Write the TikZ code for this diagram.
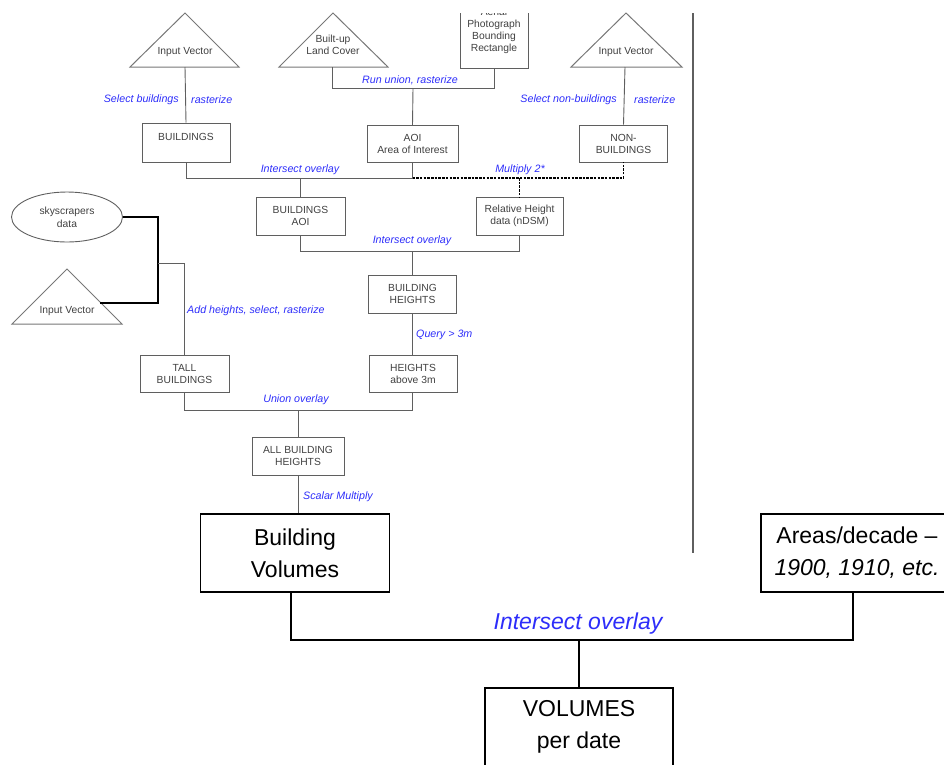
\documentclass[tikz,border=0pt]{standalone}
\usepackage{fontspec}
\setmainfont{Liberation Sans}
\usetikzlibrary{shapes.geometric}
\definecolor{lbl}{RGB}{45,45,250}
\definecolor{ln}{RGB}{95,95,95}
\tikzset{
  sbox/.style={draw=ln, line width=0.9, align=center, inner sep=0,
    font=\fontsize{10.3}{12}\selectfont, text=black!75},
  stxt/.style={align=center, inner sep=0, font=\fontsize{10.3}{12}\selectfont, text=black!75},
  slbl/.style={inner sep=0, font=\fontsize{10.7}{12}\selectfont\itshape, text=lbl},
  wire/.style={draw=ln, line width=0.9},
  kwire/.style={draw=black, line width=1.2},
  dwire/.style={draw=black, line width=1.4, dash pattern=on 2.5pt off 1.2pt},
  tri/.style={draw=ln!85, line width=1},
  sep/.style={draw=ln, line width=1.5},
  bbox/.style={draw=black, line width=1.6, align=center, inner sep=0,
    font=\fontsize{23}{32}\selectfont},
  bwire/.style={draw=black, line width=1.4},
  blbl/.style={inner sep=0, font=\fontsize{23}{26}\selectfont\itshape, text=lbl},
}
\begin{document}
\begin{tikzpicture}[x=1pt,y=-1pt]
\useasboundingbox (0,0) rectangle (944,764);

% ---------- input layers ----------
\draw[tri] (130,67) -- (185,13) -- (239,67) -- cycle;
\node[stxt] (in1) at (185,52) {Input Vector};
\coordinate (t1b) at (185,67);

\draw[tri] (279,67) -- (333,13) -- (388,67) -- cycle;
\node[stxt] (in2) at (333,45) {Built-up\\Land Cover};
\coordinate (t2b) at (332,67);

\begin{scope}
  \clip (0,13) rectangle (944,100);
  \node[sbox, minimum width=68, minimum height=74] (aer) at (494,31)
    {Aerial\\Photograph\\Bounding\\Rectangle};
\end{scope}

\draw[tri] (571,67) -- (626,13) -- (682,67) -- cycle;
\node[stxt] (in3) at (626,52) {Input Vector};
\coordinate (t3b) at (625,67);

% ---------- first tier ----------
\node[sbox, minimum width=88, minimum height=39] (bld) at (186,142.5) {BUILDINGS\\\mbox{}};
\node[sbox, minimum width=91, minimum height=37] (aoi) at (412.5,144) {AOI\\Area of Interest};
\node[sbox, minimum width=88, minimum height=37] (nbl) at (623.5,143.5) {NON-\\BUILDINGS};

\draw[wire] (t1b) -- (bld.north);
\node[slbl, anchor=east] (l1a) at (179,100) {Select buildings};
\node[slbl, anchor=west] (l1b) at (191,100) {rasterize};

\coordinate (j2) at (413,88);
\draw[wire] (t2b) |- (aer.south |- j2) -- (aer.south);
\draw[wire] (j2) -- (aoi.north);
\node[slbl] (l2) at (410,80) {Run union, rasterize};

\draw[wire] (t3b) -- (nbl.north);
\node[slbl, anchor=east] (l3a) at (617,100) {Select non-buildings};
\node[slbl, anchor=west] (l3b) at (634,100) {rasterize};

% ---------- second tier ----------
\node[sbox, minimum width=89, minimum height=38] (bao) at (300.5,216) {BUILDINGS\\AOI};
\node[sbox, minimum width=87, minimum height=38] (rel) at (519.5,216) {Relative Height\\data (nDSM)};

\coordinate (j3) at (0,178);
\draw[wire] (bld.south) |- (aoi.south |- j3) -- (aoi.south);
\draw[dwire] (aoi.south |- j3) -| (nbl.south);
\draw[wire] (bao.north) -- (bao.north |- j3);
\draw[dwire] (rel.north |- j3) -- (rel.north);
\node[slbl] (l4) at (300,170) {Intersect overlay};
\node[slbl] (l5) at (520,170) {Multiply 2*};

% ---------- building heights ----------
\node[sbox, minimum width=88, minimum height=38] (bht) at (412.5,294) {BUILDING\\HEIGHTS};
\coordinate (j4) at (0,251);
\draw[wire] (bao.south) |- (rel.south |- j4) -- (rel.south);
\draw[wire] (bht.north) -- (bht.north |- j4);
\node[slbl] (l6) at (412,241) {Intersect overlay};

% ---------- tall buildings branch ----------
\node[draw=ln, line width=0.9, ellipse, minimum width=111, minimum height=50, inner sep=0,
  align=center, font=\fontsize{10.3}{13}\selectfont, text=black!75] (ell) at (67,217) {skyscrapers\\data};
\draw[tri] (12,324) -- (67,269) -- (122,324) -- cycle;
\node[stxt] (in4) at (67,311) {Input Vector};
\coordinate (t4e) at (100,303);
\coordinate (jl) at (158,263);

\node[sbox, minimum width=89, minimum height=37] (tall) at (184.5,373.5) {TALL\\BUILDINGS};
\node[sbox, minimum width=88, minimum height=37] (h3) at (413,373.5) {HEIGHTS\\above 3m};

\draw[kwire] (ell.east) -| (jl) |- (t4e);
\draw[wire] (jl) -| (tall.north);
\node[slbl, anchor=west] (l7) at (187,311) {Add heights, select, rasterize};

\draw[wire] (bht.south) -- (bht.south |- h3.north);
\node[slbl, anchor=west] (l8) at (416,335) {Query > 3m};

% ---------- union ----------
\node[sbox, minimum width=92, minimum height=38] (abh) at (298,456) {ALL BUILDING\\HEIGHTS};
\coordinate (j5) at (0,410);
\draw[wire] (tall.south) |- (bht.south |- j5) -- (bht.south |- h3.south);
\draw[wire] (abh.north) -- (abh.north |- j5);
\node[slbl] (l9) at (296,400) {Union overlay};

% ---------- separator ----------
\draw[sep] (693,13) -- (693,553);

% ---------- volumes ----------
\node[bbox, minimum width=189, minimum height=78] (bv) at (295,553) {Building\\Volumes};
\node[bbox, minimum width=192, minimum height=78] (ar) at (857,553) {Areas/decade --\\\itshape 1900, 1910, etc.};
\node[bbox, minimum width=188, minimum height=78] (vol) at (579,727) {VOLUMES\\per date};

\draw[wire] (abh.south) -- (abh.south |- bv.north);
\node[slbl, anchor=west] (l10) at (303,497) {Scalar Multiply};

\coordinate (j6) at (0,640);
\coordinate (bvs) at ([xshift=-4pt]bv.south);
\coordinate (ars) at ([xshift=-4pt]ar.south);
\draw[bwire] (bvs) |- (ars |- j6) -- (ars);
\draw[bwire] (vol.north) -- (vol.north |- j6);
\node[blbl] (l11) at (578,624) {Intersect overlay};
\end{tikzpicture}
\end{document}
